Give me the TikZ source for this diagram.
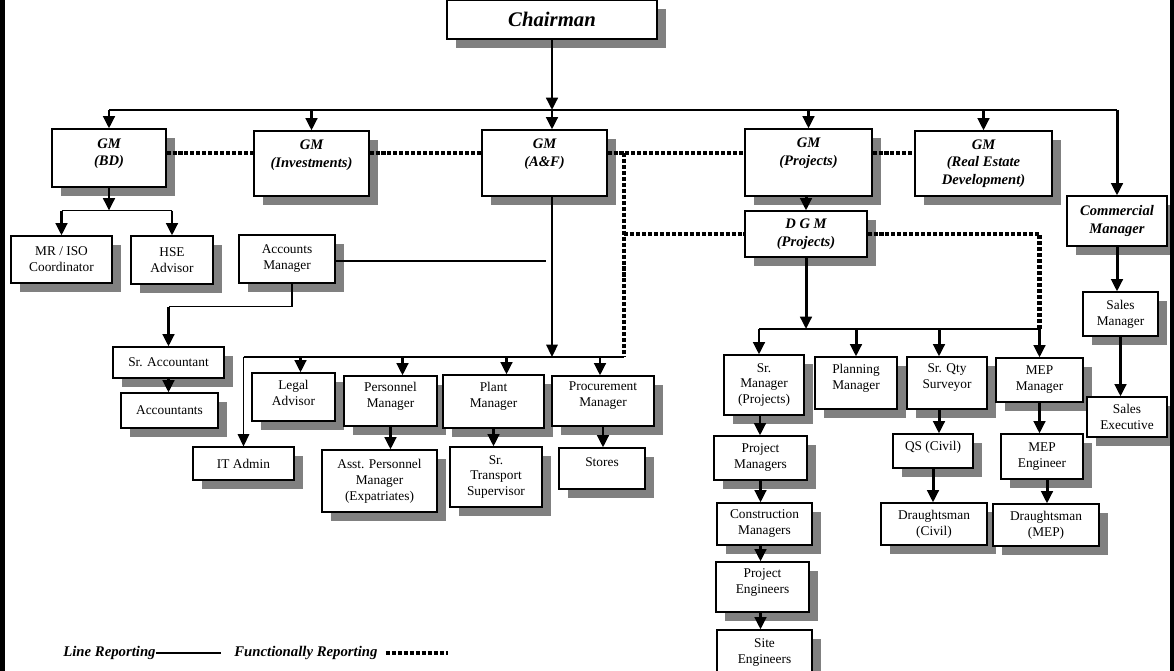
\documentclass[tikz,border=0pt]{standalone}
\usepackage{fontspec}
\setmainfont{Liberation Serif}
\usetikzlibrary{arrows.meta}
\usetikzlibrary{shadows}
\usetikzlibrary{calc}
\newcommand*{\regfont}{\fontsize{7.6}{9.1}\selectfont}
\newcommand*{\gmfont}{\fontsize{8.3}{10}\selectfont\bfseries\itshape}
\newcommand*{\chairfont}{\fontsize{11.8}{13}\selectfont\bfseries\itshape}
\definecolor{shadowgrey}{gray}{0.5}
\tikzstyle{box}=[draw, fill=white, line width=0.6pt, inner sep=1pt, align=center, font=\regfont,
    drop shadow={shadow xshift=0.18cm, shadow yshift=-0.18cm, fill=shadowgrey, opacity=1}]
\tikzstyle{gmbox}=[box, font=\gmfont]
\tikzstyle{arr}=[line width=1.7pt, -{Triangle[width=6.5pt,length=7pt]}]
\tikzstyle{medarr}=[line width=1.1pt, -{Triangle[width=6.5pt,length=7pt]}]
\tikzstyle{thin}=[line width=0.6pt]
\tikzstyle{func}=[line width=2.3pt, dash pattern=on 2.3pt off 1.1pt]
\tikzstyle{legend}=[inner sep=0pt, font=\fontsize{8.4}{10}\selectfont\bfseries\itshape]
\tikzset{sz/.style 2 args={minimum width=#1*0.02cm, minimum height=#2*0.02cm},
    lift/.style={text depth=#1}}

\begin{document}
\begin{tikzpicture}[x=0.02cm, y=-0.02cm]
    \useasboundingbox (0,0) rectangle (1174,671);
    \fill[white] (0,0) rectangle (1174,671);
    % top level
    \node[gmbox, sz={210}{39}, font=\chairfont] (chair) at (552,19.5) {Chairman};
    \node[gmbox, sz={114}{58}, lift=6.4pt] (gmbd) at (109,158) {GM\\(BD)};
    \node[gmbox, sz={115}{65}, lift=11.5pt] (gminv) at (311.5,163.5) {GM\\(Investments)};
    \node[gmbox, sz={125}{66}, lift=12pt] (gmaf) at (544.5,163) {GM\\(A\&F)};
    \node[gmbox, sz={127}{67}, lift=12pt] (gmproj) at (808.5,162.5) {GM\\(Projects)};
    \node[gmbox, sz={137}{65}] (gmred) at (983.5,163.5) {GM\\(Real Estate\\Development)};
    \node[gmbox, sz={122}{46}] (dgm) at (806,234) {D G M\\(Projects)};
    \node[gmbox, sz={100}{50}] (comm) at (1117,221) {Commercial\\Manager};
    % BD and accounts
    \node[box, sz={101}{47}] (mriso) at (61.5,259.5) {MR / ISO\\Coordinator};
    \node[box, sz={82}{48}] (hse) at (172,260) {HSE\\Advisor};
    \node[box, sz={96}{48}] (accmgr) at (287,259) {Accounts\\Manager};
    \node[box, sz={111}{31}] (sracct) at (168.5,362.5) {Sr. Accountant};
    \node[box, sz={97}{35}] (accts) at (169.5,410.5) {Accountants};
    % A&F
    \node[box, sz={101}{33}] (itadmin) at (243.5,463.5) {IT Admin};
    \node[box, sz={83}{48}, lift=4.6pt] (legal) at (293.5,397) {Legal\\Advisor};
    \node[box, sz={93}{50}, lift=7.4pt] (persmgr) at (390.5,401) {Personnel\\Manager};
    \node[box, sz={101}{53}, lift=7.4pt] (plant) at (493.5,401.5) {Plant\\Manager};
    \node[box, sz={102}{50}, lift=7.4pt] (procure) at (603,401) {Procurement\\Manager};
    \node[box, sz={115}{62}] (asst) at (379.5,481) {Asst. Personnel\\Manager\\(Expatriates)};
    \node[box, sz={92}{60}] (transp) at (496,477) {Sr.\\Transport\\Supervisor};
    \node[box, sz={86}{41}, lift=6.8pt] (stores) at (602,468.5) {Stores};
    % projects
    \node[box, sz={80}{60}] (srmgr) at (764,385) {Sr.\\Manager\\(Projects)};
    \node[box, sz={82}{52}, lift=7.4pt] (planning) at (856,383) {Planning\\Manager};
    \node[box, sz={80}{52}, lift=7.4pt] (srqty) at (947,383) {Sr. Qty\\Surveyor};
    \node[box, sz={87}{44}] (mepmgr) at (1039.5,380) {MEP\\Manager};
    \node[box, sz={93}{44}] (pm) at (760.5,458) {Project\\Managers};
    \node[box, sz={95}{42}] (cm) at (764.5,524) {Construction\\Managers};
    \node[box, sz={93}{50}, lift=6.8pt] (pe) at (762.5,587) {Project\\Engineers};
    \node[box, sz={95}{55}, lift=6.8pt] (se) at (764.5,657.5) {Site\\Engineers};
    \node[box, sz={80}{34}, lift=6.3pt] (qscivil) at (933,451) {QS (Civil)};
    \node[box, sz={82}{45}] (mepeng) at (1042,456.5) {MEP\\Engineer};
    \node[box, sz={106}{42}] (dcivil) at (934,524) {Draughtsman\\(Civil)};
    \node[box, sz={106}{42}] (dmep) at (1046,525) {Draughtsman\\(MEP)};
    % sales
    \node[box, sz={75}{44}] (salesmgr) at (1120.5,314) {Sales\\Manager};
    \node[box, sz={80}{40}] (salesexec) at (1127,417) {Sales\\Executive};

    % line reporting
    \coordinate (topbus) at (0,110);
    \coordinate (adminbus) at (0,357);
    \coordinate (projbus) at (0,329);
    \coordinate (fline) at (0,153);
    \coordinate (fv) at (624,0);
    \draw[arr] (chair.south) -- (topbus -| chair.south);
    \draw[arr] (topbus -| chair.south) -- (chair.south |- gmaf.north);
    \draw[thin] (topbus -| gmbd.north) -- (topbus -| comm.north);
    \draw[arr] (topbus -| gmbd.north) -- (gmbd.north);
    \draw[arr] (topbus -| gminv.north) -- (gminv.north);
    \draw[arr] (topbus -| gmproj.north) -- (gmproj.north);
    \draw[arr] (topbus -| gmred.north) -- (gmred.north);
    \draw[arr] (topbus -| comm.north) -- (comm.north);
    \draw[arr] (gmbd.south) -- ++(0,23) coordinate (bdbus);
    \draw[line width=1.1pt] (bdbus -| mriso) -- (bdbus -| hse);
    \draw[arr] (bdbus -| mriso) -- (mriso.north);
    \draw[arr] (bdbus -| hse) -- (hse.north);
    \coordinate (acctend) at (546,261);
    \draw[thin] (accmgr.east |- acctend) -- (acctend);
    \draw[thin] ($(accmgr.south)+(5,0)$) -- ++(0,23) coordinate (acbus) -- (acbus -| sracct);
    \draw[arr] (acbus -| sracct) -- (sracct.north);
    \draw[arr] (sracct.south) -- (sracct.south |- accts.north);
    \draw[medarr] (gmaf.south -| chair) -- (adminbus -| chair);
    \draw[thin] (adminbus -| itadmin) -- (adminbus -| fv);
    \draw[medarr] (adminbus -| itadmin) -- (itadmin.north);
    \draw[arr] ($(adminbus -| legal)+(7,0)$) -- ($(legal.north)+(7,0)$);
    \draw[arr] ($(adminbus -| persmgr)+(12,0)$) -- ($(persmgr.north)+(12,0)$);
    \draw[arr] ($(adminbus -| plant)+(13,0)$) -- ($(plant.north)+(13,0)$);
    \draw[arr] ($(adminbus -| procure)+(-3,0)$) -- ($(procure.north)+(-3,0)$);
    \draw[arr] (persmgr.south) -- (persmgr.south |- asst.north);
    \draw[arr] (plant.south) -- (plant.south |- transp.north);
    \draw[arr] (procure.south) -- (procure.south |- stores.north);
    \draw[arr] (gmproj.south -| dgm) -- (dgm.north);
    \draw[arr] (dgm.south) -- (projbus -| dgm.south);
    \draw[thin] ($(projbus -| srmgr)+(-5,0)$) -- (projbus -| mepmgr);
    \draw[arr] ($(projbus -| srmgr)+(-5,0)$) -- ($(srmgr.north)+(-5,0)$);
    \draw[arr] (projbus -| planning) -- (planning.north);
    \draw[arr] ($(projbus -| srqty)+(-8,0)$) -- ($(srqty.north)+(-8,0)$);
    \draw[arr] (projbus -| mepmgr) -- (mepmgr.north);
    \draw[arr] ($(srmgr.south)+(-4,0)$) -- ($(srmgr.south |- pm.north)+(-4,0)$);
    \draw[arr] (pm.south) -- (pm.south |- cm.north);
    \draw[arr] (pm.south |- cm.south) -- (pm.south |- pe.north);
    \draw[arr] (pm.south |- pe.south) -- (pm.south |- se.north);
    \draw[arr] ($(srqty.south)+(-8,0)$) -- ($(srqty.south |- qscivil.north)+(-8,0)$);
    \draw[arr] (qscivil.south) -- (qscivil.south |- dcivil.north);
    \draw[arr] (mepmgr.south) -- (mepmgr.south |- mepeng.north);
    \draw[arr] ($(mepeng.south)+(5,0)$) -- ($(mepeng.south |- dmep.north)+(5,0)$);
    \draw[arr] (comm.south) -- (comm.south |- salesmgr.north);
    \draw[arr] (salesmgr.south) -- (salesmgr.south |- salesexec.north);

    % functional reporting
    \draw[func] (gmbd.east |- fline) -- (gminv.west |- fline);
    \draw[func] (gminv.east |- fline) -- (gmaf.west |- fline);
    \draw[func] (gmaf.east |- fline) -- (gmproj.west |- fline);
    \draw[func] (gmproj.east |- fline) -- (gmred.west |- fline);
    \draw[func] (fv |- fline) -- (fv |- adminbus);
    \draw[func] (fv |- dgm.west) -- (dgm.west);
    \draw[func] (dgm.east) -- (dgm.east -| mepmgr) -- (projbus -| mepmgr);

    % legend
    \node[legend, anchor=west] (legline) at (63,653) {Line Reporting};
    \draw[thin] (legline.east) -- ++(65,0);
    \node[legend, anchor=west] (legfunc) at (234,653) {Functionally Reporting};
    \draw[func] ($(legfunc.east)+(8,0)$) -- ++(62,0);

    % frame edges
    \fill[black] (0,0) rectangle (5,671);
    \fill[black] (1170,0) rectangle (1174,671);
\end{tikzpicture}
\end{document}
